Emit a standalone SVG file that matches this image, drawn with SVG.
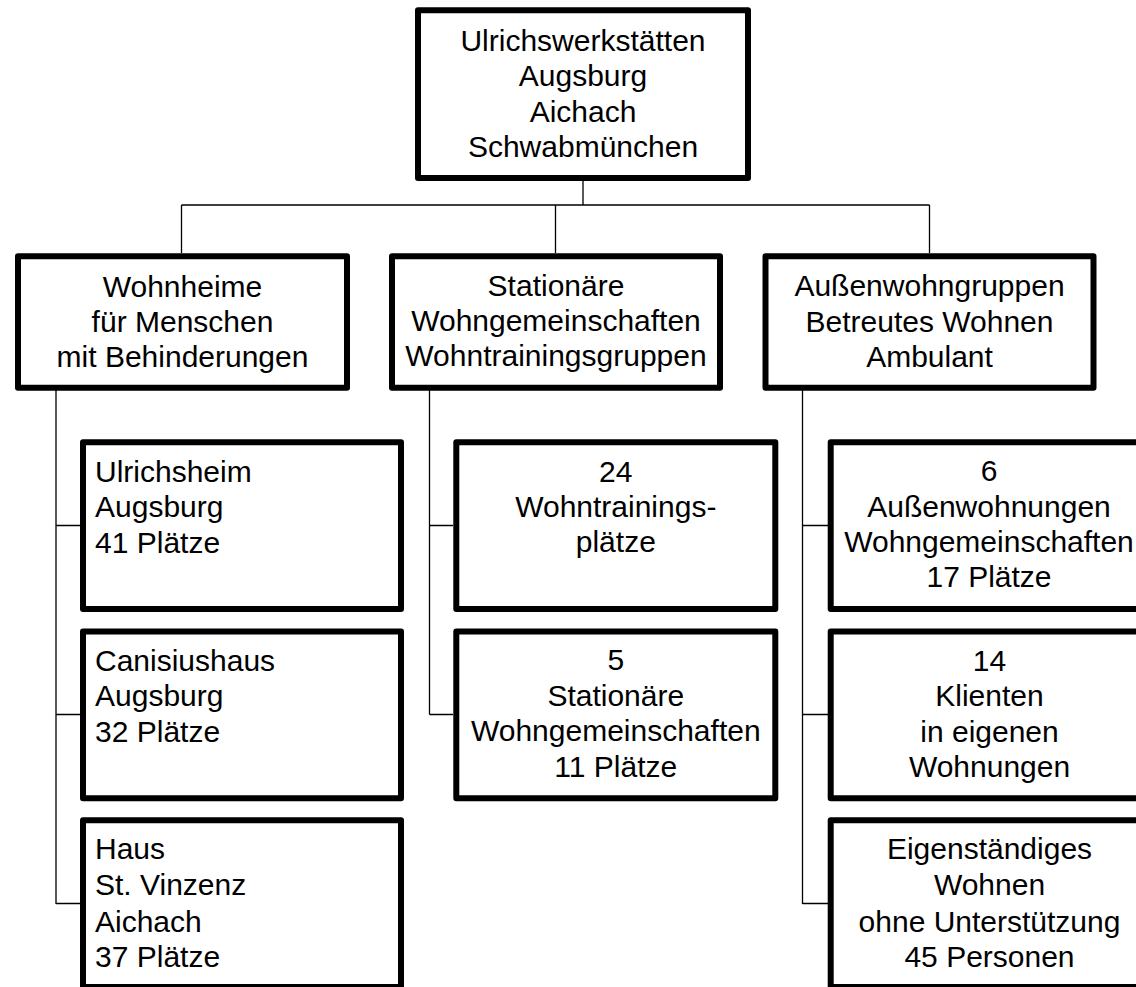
<svg xmlns="http://www.w3.org/2000/svg" width="1136" height="987" viewBox="0 0 1136 987">
<style>
.box{fill:#fff;stroke:#000;stroke-width:6;stroke-linejoin:round}
.c{fill:none;stroke:#000;stroke-width:1.3}
text{font-family:"Liberation Sans",Arial,sans-serif;font-size:30px;fill:#000}
.m{text-anchor:middle}
</style>
<rect width="1136" height="987" fill="#fff"/>
<g id="connectors">
<path class="c" d="M583 181V205M181.5 205H929.5M181.5 205V253M555.5 205V253M929.5 205V253"/>
<path class="c" d="M56 390V904M56 525.5H80M56 714.5H80M56 903.5H80"/>
<path class="c" d="M429.5 390V714.5M429.5 525.5H453M429.5 714.5H453"/>
<path class="c" d="M802.5 390V904M802.5 525.5H828M802.5 714.5H828M802.5 903.5H828"/>
</g>
<g id="root">
<rect class="box" x="418" y="10.3" width="330" height="167.7"/>
<text class="m" x="583" y="50.7">Ulrichswerkstätten</text>
<text class="m" x="583" y="86">Augsburg</text>
<text class="m" x="583" y="121.5">Aichach</text>
<text class="m" x="583" y="157">Schwabmünchen</text>
</g>
<g id="wohnheime">
<rect class="box" x="18" y="256.3" width="329" height="131.4"/>
<text class="m" x="182.5" y="297">Wohnheime</text>
<text class="m" x="182.5" y="332.3">für Menschen</text>
<text class="m" x="182.5" y="366.8">mit Behinderungen</text>
</g>
<g id="stationaer">
<rect class="box" x="392" y="256.3" width="328" height="131.4"/>
<text class="m" x="556" y="296.3">Stationäre</text>
<text class="m" x="556" y="331">Wohngemeinschaften</text>
<text class="m" x="556" y="366">Wohntrainingsgruppen</text>
</g>
<g id="ambulant">
<rect class="box" x="765.5" y="256.3" width="328" height="131.4"/>
<text class="m" x="929.5" y="296.3">Außenwohngruppen</text>
<text class="m" x="929.5" y="331.7">Betreutes Wohnen</text>
<text class="m" x="929.5" y="366.7">Ambulant</text>
</g>
<g id="ulrichsheim">
<rect class="box" x="83" y="442.3" width="318" height="166.7"/>
<text x="95" y="481.7">Ulrichsheim</text>
<text x="95" y="517.2">Augsburg</text>
<text x="95" y="552.7">41 Plätze</text>
</g>
<g id="canisiushaus">
<rect class="box" x="83" y="631.5" width="318" height="166.7"/>
<text x="95" y="670.7">Canisiushaus</text>
<text x="95" y="706.2">Augsburg</text>
<text x="95" y="741.7">32 Plätze</text>
</g>
<g id="vinzenz">
<rect class="box" x="83" y="820.3" width="318" height="166.7"/>
<text x="95" y="859.4">Haus</text>
<text x="95" y="895">St. Vinzenz</text>
<text x="95" y="931.5">Aichach</text>
<text x="95" y="966.8">37 Plätze</text>
</g>
<g id="wohntraining">
<rect class="box" x="456.3" y="442.3" width="319" height="166.7"/>
<text class="m" x="615.8" y="481.7">24</text>
<text class="m" x="615.8" y="516.8">Wohntrainings-</text>
<text class="m" x="615.8" y="551.8">plätze</text>
</g>
<g id="stat-wg">
<rect class="box" x="456.3" y="631.5" width="319" height="166.7"/>
<text class="m" x="615.8" y="670.2">5</text>
<text class="m" x="615.8" y="705.7">Stationäre</text>
<text class="m" x="615.8" y="741">Wohngemeinschaften</text>
<text class="m" x="615.8" y="776.5">11 Plätze</text>
</g>
<g id="aussenwohnungen">
<rect class="box" x="830.7" y="442.3" width="318" height="166.7"/>
<text class="m" x="989" y="480.9">6</text>
<text class="m" x="989" y="516.5">Außenwohnungen</text>
<text class="m" x="989" y="551.8">Wohngemeinschaften</text>
<text class="m" x="989" y="587.2">17 Plätze</text>
</g>
<g id="klienten">
<rect class="box" x="830.7" y="631.5" width="318" height="166.7"/>
<text class="m" x="989.5" y="670.7">14</text>
<text class="m" x="989.5" y="706.4">Klienten</text>
<text class="m" x="989.5" y="741.7">in eigenen</text>
<text class="m" x="989.5" y="776.7">Wohnungen</text>
</g>
<g id="eigenstaendig">
<rect class="box" x="830.7" y="820.3" width="318" height="166.7"/>
<text class="m" x="989.5" y="859.4">Eigenständiges</text>
<text class="m" x="989.5" y="895">Wohnen</text>
<text class="m" x="989.5" y="931.5">ohne Unterstützung</text>
<text class="m" x="989.5" y="966.8">45 Personen</text>
</g>
</svg>
